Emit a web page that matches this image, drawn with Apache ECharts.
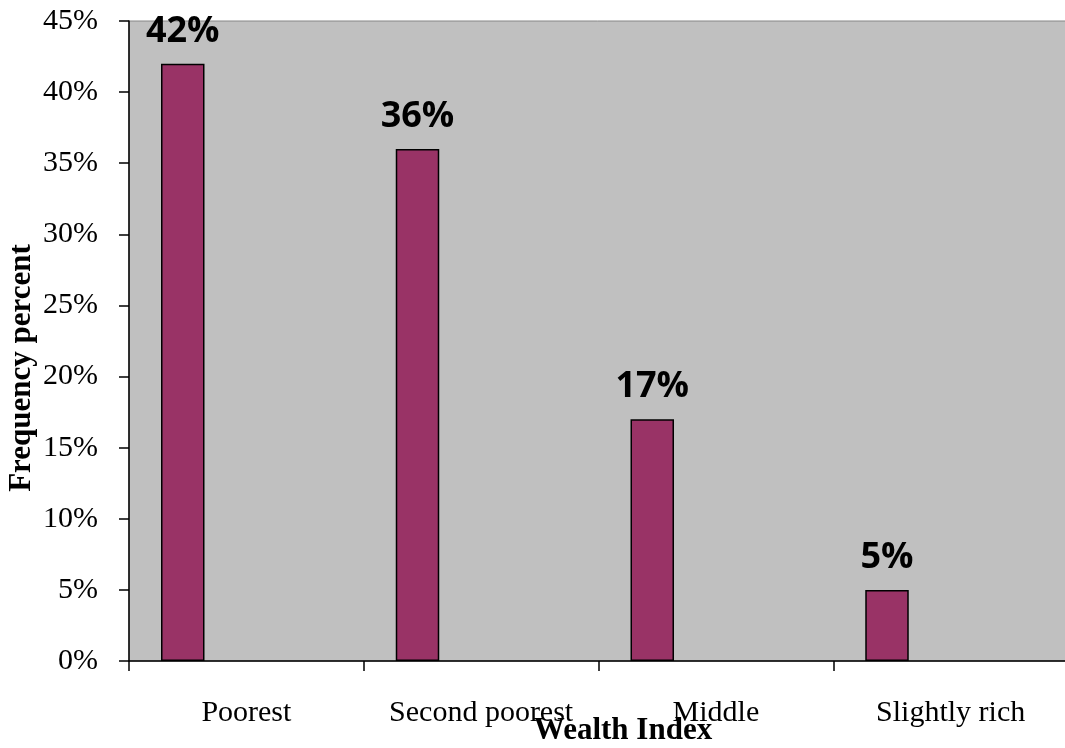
<!DOCTYPE html>
<html>
<head>
<meta charset="utf-8">
<script src="https://cdn.jsdelivr.net/npm/echarts@6/dist/echarts.min.js"></script>
<style>
  html, body { margin: 0; padding: 0; background: #fff; }
  #chart { width: 1065px; height: 748px; }
</style>
</head>
<body>
<div id="chart"></div>
<script>
var categories = ["Poorest", "Second poorest", "Middle", "Slightly rich"]
var frequency = [42, 36, 17, 5]
var yTicks = [0, 5, 10, 15, 20, 25, 30, 35, 40, 45]

var chart = echarts.init(document.getElementById("chart"))

var option = {
  animation: false,
  backgroundColor: "#ffffff",
  grid: {
    left: 129,
    top: 21,
    width: 939,
    height: 640,
    outerBoundsMode: "none",
    containLabel: false,
    show: true,
    backgroundColor: "#c0c0c0",
    borderColor: "#868686",
    borderWidth: 1,
  },
  xAxis: {
    type: "category",
    data: categories,
    boundaryGap: true,
    axisLine: { lineStyle: { color: "#000", width: 1.5 } },
    axisTick: { show: true, alignWithLabel: false, length: 10, lineStyle: { color: "#000", width: 1.5 } },
    axisLabel: {
      interval: 0,
      margin: 37,
      color: "#000",
      fontFamily: "Liberation Serif",
      fontSize: 30,
    },
    splitLine: { show: false },
  },
  yAxis: {
    type: "value",
    min: yTicks[0],
    max: yTicks[yTicks.length - 1],
    interval: 5,
    axisLine: { show: true, lineStyle: { color: "#000", width: 1.5 } },
    axisTick: { show: true, length: 10, lineStyle: { color: "#000", width: 1.5 } },
    axisLabel: {
      margin: 31,
      color: "#000",
      fontFamily: "Liberation Serif",
      fontSize: 30,
      formatter: function (v) { return v + "%" },
    },
    splitLine: { show: false },
  },
  series: [
    {
      type: "bar",
      data: frequency,
      barWidth: 43.5,
      barGap: "192.5%",
      itemStyle: { color: "#993366", borderColor: "#000", borderWidth: 1.5 },
      label: {
        show: true,
        position: "top",
        distance: 14,
        color: "#000",
        fontFamily: "Open Sans",
        fontWeight: "bold",
        fontSize: 36,
        formatter: function (p) { return p.value + "%" },
      },
    },
    {
      // empty second series, keeps the bars off-centre like the original
      type: "bar",
      data: categories.map(function () { return null }),
      barWidth: 43.5,
    },
  ],
  graphic: [
    {
      type: "text",
      x: 22,
      y: 368,
      rotation: Math.PI / 2,
      style: {
        text: "Frequency percent",
        fill: "#000",
        font: "bold 31px 'Liberation Serif'",
        align: "center",
        verticalAlign: "middle",
      },
    },
    {
      type: "text",
      x: 623,
      y: 731,
      style: {
        text: "Wealth Index",
        fill: "#000",
        font: "bold 31px 'Liberation Serif'",
        align: "center",
        verticalAlign: "middle",
      },
    },
  ],
}

chart.setOption(option)
</script>
</body>
</html>
